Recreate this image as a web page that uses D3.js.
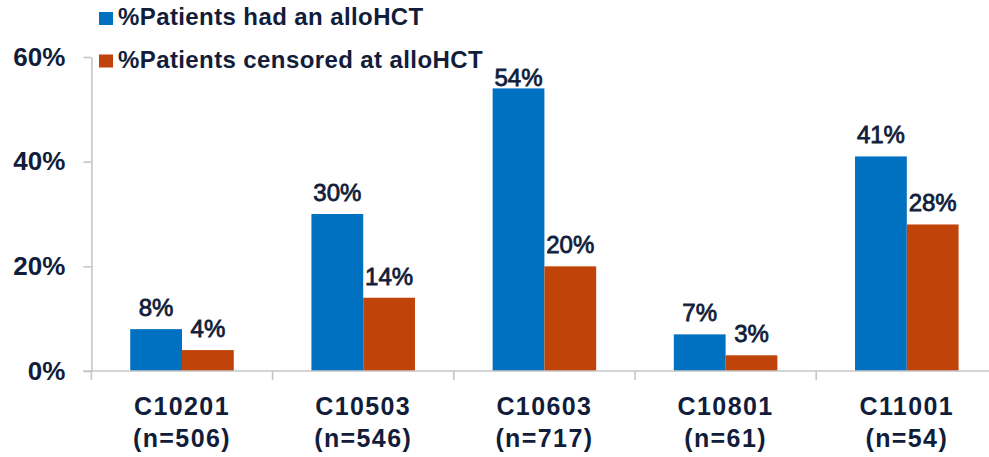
<!DOCTYPE html>
<html>
<head>
<meta charset="utf-8">
<script src="https://cdn.jsdelivr.net/npm/d3@7"></script>
<style>
  body { margin: 0; background: #fff; }
  text { font-family: "Liberation Sans", Arial, sans-serif; font-weight: bold; fill: #111d3a; }
  text.bar-label { font-weight: normal; stroke: #111d3a; stroke-width: 0.8px; }
</style>
</head>
<body>
<div id="chart"></div>
<script>
// Chart data
const trials = ['C10201', 'C10503', 'C10603', 'C10801', 'C11001'];
const patientCounts = ['n=506', 'n=546', 'n=717', 'n=61', 'n=54'];
const seriesNames = ['%Patients had an alloHCT', '%Patients censored at alloHCT'];
const hadAlloHCT = [0.08, 0.30, 0.54, 0.07, 0.41];
const censoredAtAlloHCT = [0.04, 0.14, 0.20, 0.03, 0.28];
const yTicks = [0, 0.2, 0.4, 0.6];

const colors = ['#0070c0', '#c0440a'];
const width = 989, height = 457;
const margin = { top: 57, left: 91.4, bottom: 86 };
const axisColor = '#c6c6c6';

const svg = d3.select('#chart').append('svg')
    .attr('width', width)
    .attr('height', height);

// Scales
const x0 = d3.scaleBand()
    .domain(trials)
    .range([margin.left, margin.left + 181.2 * trials.length]);

const x1 = d3.scaleBand()
    .domain(seriesNames)
    .range([0, x0.bandwidth()])
    .paddingInner(0)
    .paddingOuter(0.75);

const y = d3.scaleLinear()
    .domain([0, 0.6])
    .range([height - margin.bottom, margin.top]);

const pct = d3.format('.0%');

// Y axis
const yAxis = d3.axisLeft(y)
    .tickValues(yTicks)
    .tickFormat(pct)
    .tickSize(8)
    .tickSizeOuter(0)
    .tickPadding(18);

const yAxisG = svg.append('g')
    .attr('transform', `translate(${margin.left},0)`)
    .call(yAxis);
yAxisG.selectAll('.domain, .tick line')
    .attr('stroke', axisColor)
    .attr('stroke-width', 1.6);
yAxisG.selectAll('.tick text')
    .style('font-size', '26px')
    .attr('fill', '#111d3a');

// Legend
const legend = svg.append('g');
seriesNames.forEach((name, i) => {
    const row = legend.append('g')
        .attr('transform', `translate(99,${12 + i * 42.5})`);
    row.append('rect')
        .attr('width', 14)
        .attr('height', 13)
        .attr('fill', colors[i]);
    row.append('text')
        .attr('x', 19)
        .attr('y', 13.3)
        .style('font-size', '24px')
        .style('letter-spacing', '0.4px')
        .text(name);
});

// Bars
const rows = trials.map((t, i) => ({ trial: t, n: patientCounts[i], values: [hadAlloHCT[i], censoredAtAlloHCT[i]] }));

const groups = svg.selectAll('.group')
    .data(rows)
    .join('g')
    .attr('class', 'group')
    .attr('transform', d => `translate(${x0(d.trial)},0)`);

groups.selectAll('rect')
    .data(d => d.values.map((v, i) => ({ key: seriesNames[i], value: v, i })))
    .join('rect')
    .attr('x', d => x1(d.key))
    .attr('width', x1.bandwidth())
    .attr('y', d => y(d.value))
    .attr('height', d => y(0) - y(d.value))
    .attr('fill', d => colors[d.i]);

// Value labels (kept inside plot area)
groups.selectAll('.bar-label')
    .data(d => d.values.map((v, i) => ({ key: seriesNames[i], value: v })))
    .join('text')
    .attr('class', 'bar-label')
    .attr('x', d => x1(d.key) + x1.bandwidth() / 2)
    .attr('y', d => Math.max(y(d.value) - 13, 86))
    .attr('text-anchor', 'middle')
    .style('font-size', '24px')
    .text(d => pct(d.value));

// X axis line and category ticks
const x0Range = x0.range();
svg.append('line')
    .attr('x1', margin.left - 8)
    .attr('x2', x0Range[1])
    .attr('y1', y(0))
    .attr('y2', y(0))
    .attr('stroke', axisColor)
    .attr('stroke-width', 1.6);

svg.selectAll('.cat-tick')
    .data(trials.concat(['end']))
    .join('line')
    .attr('class', 'cat-tick')
    .attr('x1', (d, i) => x0Range[0] + i * x0.step())
    .attr('x2', (d, i) => x0Range[0] + i * x0.step())
    .attr('y1', y(0))
    .attr('y2', y(0) + 9)
    .attr('stroke', axisColor)
    .attr('stroke-width', 1.6);

// Category labels
const catLabels = svg.selectAll('.cat-label')
    .data(rows)
    .join('text')
    .attr('class', 'cat-label')
    .attr('text-anchor', 'middle')
    .style('font-size', '25px')
    .style('letter-spacing', '1.4px');
catLabels.append('tspan')
    .attr('x', d => x0(d.trial) + x0.bandwidth() / 2)
    .attr('y', 415)
    .text(d => d.trial);
catLabels.append('tspan')
    .attr('x', d => x0(d.trial) + x0.bandwidth() / 2)
    .attr('y', 447)
    .text(d => `(${d.n})`);
</script>
</body>
</html>
